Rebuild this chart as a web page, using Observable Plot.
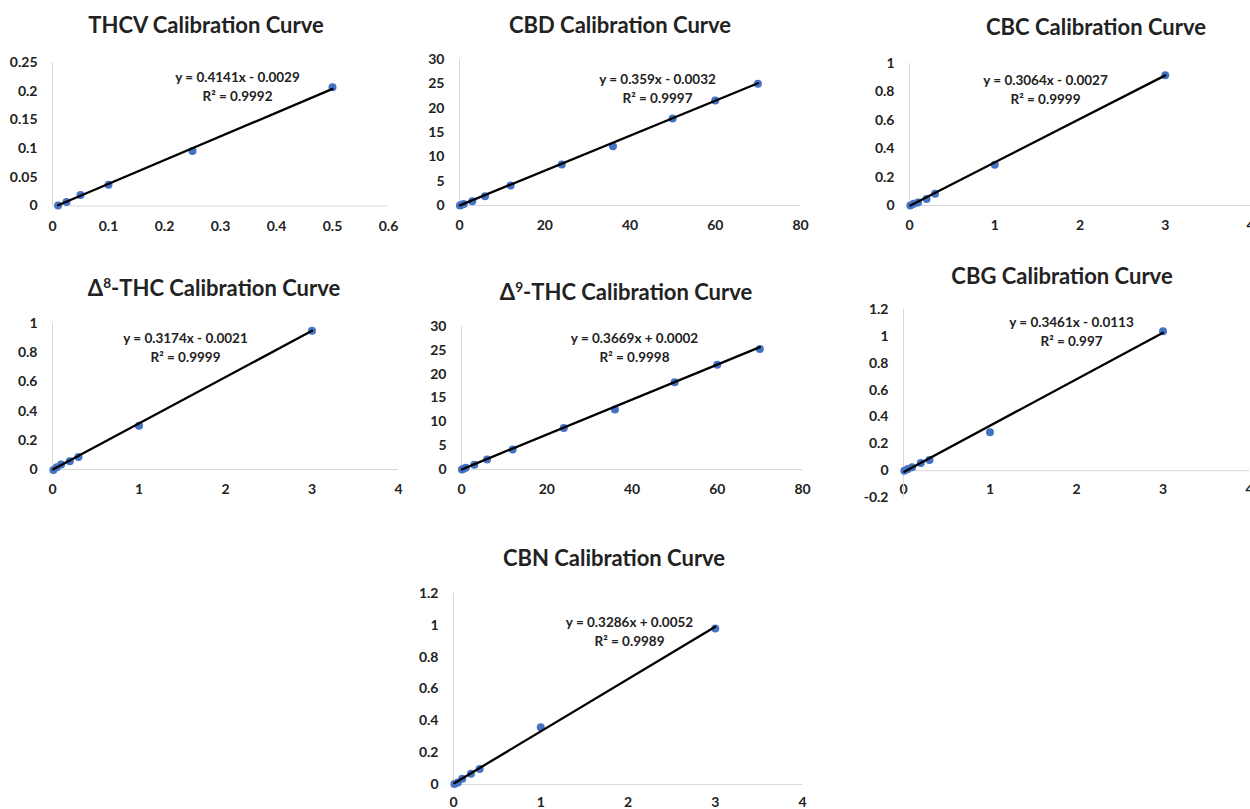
<!DOCTYPE html>
<html><head><meta charset="utf-8">
<script src="https://cdn.jsdelivr.net/npm/d3@7"></script>
<script src="https://cdn.jsdelivr.net/npm/@observablehq/plot@0.6"></script>
<style>
html,body{margin:0;padding:0;background:#fff;overflow:hidden;}
#root{position:relative;width:1250px;height:809px;overflow:hidden;font-family:Lato,"Open Sans",sans-serif;}
.title{position:absolute;transform:translate(-50%,-50%);font-weight:700;font-size:22px;color:#222;white-space:nowrap;line-height:1;}
.title sup{font-size:0.62em;vertical-align:0.6em;line-height:0;}
.panel{position:absolute;}
</style></head><body><div id="root"></div>
<script>
// ---- data ----
const thcvX = [0.01, 0.025, 0.05, 0.1, 0.25, 0.5];
const thcvY = [0.001, 0.007, 0.019, 0.037, 0.096, 0.207];
const cbdX = [0.1, 0.5, 1, 3, 6, 12, 24, 36, 50, 60, 70];
const cbdY = [0.02, 0.15, 0.33, 0.85, 1.9, 4.1, 8.4, 12.2, 17.9, 21.6, 25.0];
const cbcX = [0.01, 0.05, 0.1, 0.2, 0.3, 1, 3];
const cbcY = [0.0, 0.012, 0.022, 0.045, 0.083, 0.287, 0.918];
const d8X = [0.01, 0.05, 0.1, 0.2, 0.3, 1, 3];
const d8Y = [-0.003, 0.015, 0.035, 0.057, 0.086, 0.30, 0.95];
const d9X = [0.1, 0.5, 1, 3, 6, 12, 24, 36, 50, 60, 70];
const d9Y = [0.0, 0.15, 0.35, 1.0, 2.1, 4.2, 8.7, 12.6, 18.3, 22.0, 25.3];
const cbgX = [0.01, 0.05, 0.1, 0.2, 0.3, 1, 3];
const cbgY = [0.0, 0.012, 0.025, 0.057, 0.08, 0.286, 1.038];
const cbnX = [0.01, 0.05, 0.1, 0.2, 0.3, 1, 3];
const cbnY = [0.003, 0.012, 0.036, 0.067, 0.098, 0.36, 0.98];

const titles = ["THCV Calibration Curve", "CBD Calibration Curve", "CBC Calibration Curve",
  "Δ<sup>8</sup>-THC Calibration Curve", "Δ<sup>9</sup>-THC Calibration Curve",
  "CBG Calibration Curve", "CBN Calibration Curve"];
const slopes = [0.4141, 0.359, 0.3064, 0.3174, 0.3669, 0.3461, 0.3286];
const intercepts = [-0.0029, -0.0032, -0.0027, -0.0021, 0.0002, -0.0113, 0.0052];
const r2s = ["0.9992", "0.9997", "0.9999", "0.9999", "0.9998", "0.997", "0.9989"];

const ticks06 = [0, 0.1, 0.2, 0.3, 0.4, 0.5, 0.6];
const ticks025 = [0, 0.05, 0.1, 0.15, 0.2, 0.25];
const ticks80 = [0, 20, 40, 60, 80];
const ticks30 = [0, 5, 10, 15, 20, 25, 30];
const ticks4 = [0, 1, 2, 3, 4];
const ticks1 = [0, 0.2, 0.4, 0.6, 0.8, 1];
const ticks12 = [0, 0.2, 0.4, 0.6, 0.8, 1, 1.2];
const ticks12n = [-0.2, 0, 0.2, 0.4, 0.6, 0.8, 1, 1.2];

const seriesX = [thcvX, cbdX, cbcX, d8X, d9X, cbgX, cbnX];
const seriesY = [thcvY, cbdY, cbcY, d8Y, d9Y, cbgY, cbnY];
const xTickSets = [ticks06, ticks80, ticks4, ticks4, ticks80, ticks4, ticks4];
const yTickSets = [ticks025, ticks30, ticks1, ticks1, ticks30, ticks12n, ticks12];

// ---- layout (pixels) ----
const layout = [
  {fx:[52,388], fy:[205,61.5], title:[206,25], eq:[237,71], xPad:15},
  {fx:[459,800], fy:[205,59], title:[620,25], eq:[657,74], xPad:15},
  {fx:[909,1250], fy:[205,63], title:[1096,27], eq:[1045,75], xPad:15},
  {fx:[52,398], fy:[469,323], title:[214,288], eq:[185,333], xPad:15},
  {fx:[461,802], fy:[469,326], title:[626,292], eq:[634,333], xPad:15},
  {fx:[903,1249], fy:[497,309], title:[1062,276], eq:[1071,317], xPad:-13},
  {fx:[453,802], fy:[784,593], title:[614,558], eq:[629,617], xPad:13}
];

const fmt = d => String(+d.toFixed(4));
const root = document.getElementById("root");
const ml = 60, mr = 12, mt = 12, mb = 34;

titles.forEach((t, i) => {
  const L = layout[i];
  const div = document.createElement("div");
  div.className = "title";
  div.innerHTML = t;
  div.style.left = L.title[0] + "px";
  div.style.top = L.title[1] + "px";
  root.appendChild(div);

  const xs = seriesX[i], ys = seriesY[i];
  const pts = xs.map((x, k) => ({x, y: ys[k]}));
  const xt = xTickSets[i], yt = yTickSets[i];
  const xmin = d3.min(xs), xmax = d3.max(xs);
  const trend = [xmin, xmax].map(x => ({x, y: slopes[i] * x + intercepts[i]}));
  const b = intercepts[i];
  const eq1 = `y = ${slopes[i]}x ${b < 0 ? "-" : "+"} ${Math.abs(b).toFixed(4)}`;
  const eq2 = `R² = ${r2s[i]}`;
  const fw = L.fx[1] - L.fx[0], fh = L.fy[0] - L.fy[1];
  const dx = L.eq[0] - L.fx[0], dy = L.eq[1] - L.fy[1];

  const chart = Plot.plot({
    width: fw + ml + mr,
    height: fh + mt + mb,
    marginLeft: ml, marginRight: mr, marginTop: mt, marginBottom: mb,
    style: {fontFamily: "Lato, 'Open Sans', sans-serif", fontWeight: 700, fontSize: "14px", color: "#222", background: "transparent", overflow: "visible"},
    x: {domain: [xt[0], xt[xt.length - 1]], ticks: xt, tickFormat: fmt, tickSize: 0, tickPadding: L.xPad, label: null},
    y: {domain: [yt[0], yt[yt.length - 1]], ticks: yt, tickFormat: fmt, tickSize: 0, tickPadding: 15, label: null},
    marks: [
      Plot.ruleX([xt[0]], {stroke: "#d9d9d9", strokeWidth: 1}),
      Plot.ruleY([0], {stroke: "#d9d9d9", strokeWidth: 1}),
      Plot.dot(pts, {x: "x", y: "y", r: 4, fill: "#4472C4", stroke: "none"}),
      Plot.line(trend, {x: "x", y: "y", stroke: "#000", strokeWidth: 2.3}),
      Plot.text([eq1], {text: d => d, frameAnchor: "top-left", textAnchor: "middle", dx, dy, fontSize: 13.5, fontWeight: 700, fill: "#222"}),
      Plot.text([eq2], {text: d => d, frameAnchor: "top-left", textAnchor: "middle", dx, dy: dy + 19, fontSize: 13.5, fontWeight: 700, fill: "#222"})
    ]
  });
  chart.classList.add("panel");
  chart.style.left = (L.fx[0] - ml) + "px";
  chart.style.top = (L.fy[1] - mt) + "px";
  root.appendChild(chart);
});
</script></body></html>
